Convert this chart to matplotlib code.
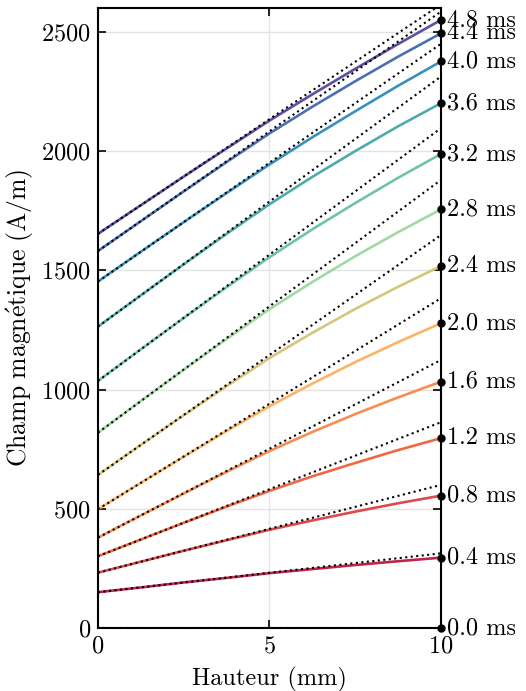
import matplotlib
matplotlib.use("Agg")
import matplotlib.pyplot as plt
import numpy as np

# ---- data ----
times = [0.0, 0.4, 0.8, 1.2, 1.6, 2.0, 2.4, 2.8, 3.2, 3.6, 4.0, 4.4, 4.8]
time_labels = ["%.1f ms" % t for t in times]
x_pts = [0, 1.25, 2.5, 3.75, 5, 6.25, 7.5, 8.75, 10]
H_0_0 = [0, 0, 0, 0, 0, 0, 0, 0, 0]
H_0_4 = [150, 170, 191, 210, 230, 247, 264, 280, 295]
H_0_8 = [232, 278, 324, 368, 412, 451, 488, 523, 555]
H_1_2 = [301, 371, 441, 509, 575, 636, 692, 746, 796]
H_1_6 = [379, 472, 564, 655, 742, 822, 897, 967, 1033]
H_2_0 = [498, 609, 718, 826, 930, 1025, 1115, 1199, 1278]
H_2_4 = [642, 768, 892, 1014, 1132, 1238, 1338, 1431, 1518]
H_2_8 = [819, 952, 1083, 1212, 1337, 1451, 1559, 1660, 1756]
H_3_2 = [1036, 1169, 1300, 1429, 1555, 1672, 1782, 1888, 1988]
H_3_6 = [1264, 1395, 1525, 1653, 1777, 1892, 2000, 2104, 2201]
H_4_0 = [1453, 1578, 1702, 1824, 1944, 2058, 2167, 2274, 2376]
H_4_4 = [1581, 1706, 1831, 1954, 2074, 2186, 2293, 2396, 2494]
H_4_8 = [1653, 1773, 1893, 2011, 2128, 2238, 2345, 2449, 2550]
solid = [H_0_0, H_0_4, H_0_8, H_1_2, H_1_6, H_2_0, H_2_4, H_2_8,
         H_3_2, H_3_6, H_4_0, H_4_4, H_4_8]
# dotted (linear) lines: value at x=0 and value at x=10
lin_start = [0, 150, 232, 301, 379, 498, 642, 819, 1036, 1264, 1453, 1581, 1653]
lin_end = [0, 313, 600, 863, 1124, 1383, 1648, 1879, 2096, 2313, 2450, 2585, 2615]

colors = ["#9e0142", "#c0244b", "#db4a4c", "#f06744", "#f88d52", "#fdb366",
          "#d6c67c", "#a0d9a2", "#70c4a4", "#4fabaa", "#3990ba", "#4a70b0",
          "#5e4fa2"]

plt.rcParams['font.family'] = ['cmr10', 'DejaVu Serif']
plt.rcParams['mathtext.fontset'] = 'cm'
plt.rcParams['axes.formatter.use_mathtext'] = True
FS = 17.5

fig = plt.figure(figsize=(5.26, 6.91), dpi=100)
ax = fig.add_axes([0.1863, 0.0912, 0.8384 - 0.1863, 0.9884 - 0.0912])

for i, t in enumerate(times):
    ax.plot(x_pts, solid[i], color=colors[i], lw=1.9, zorder=3,
            solid_capstyle='butt')
    ax.plot([0, 10], [lin_start[i], lin_end[i]], color='black', lw=1.5,
            ls=':', zorder=4)
    ax.plot([10], [solid[i][-1]], 'o', color='black', ms=5, zorder=6,
            clip_on=False)
    ax.text(10.17, solid[i][-1], time_labels[i], fontsize=FS, va='center',
            ha='left')

ax.set_xlim(0, 10)
ax.set_ylim(0, 2600)
ax.set_xticks([0, 5, 10])
ax.set_yticks([0, 500, 1000, 1500, 2000, 2500])
ax.grid(True, color='#e3e3e3', lw=1.0, zorder=0)
ax.set_axisbelow(True)
ax.tick_params(direction='in', top=True, right=True, length=6, width=1.2,
               labelsize=FS, pad=5)
for s in ax.spines.values():
    s.set_linewidth(1.5)
    s.set_zorder(5)
ax.set_xlabel('Hauteur (mm)', fontsize=FS, labelpad=7)
ax.set_ylabel(r'$\mathrm{Champ\ magn\acute{e}tique\ (A/m)}$', fontsize=18.5,
              labelpad=4)

fig.savefig('out.png', dpi=100)
